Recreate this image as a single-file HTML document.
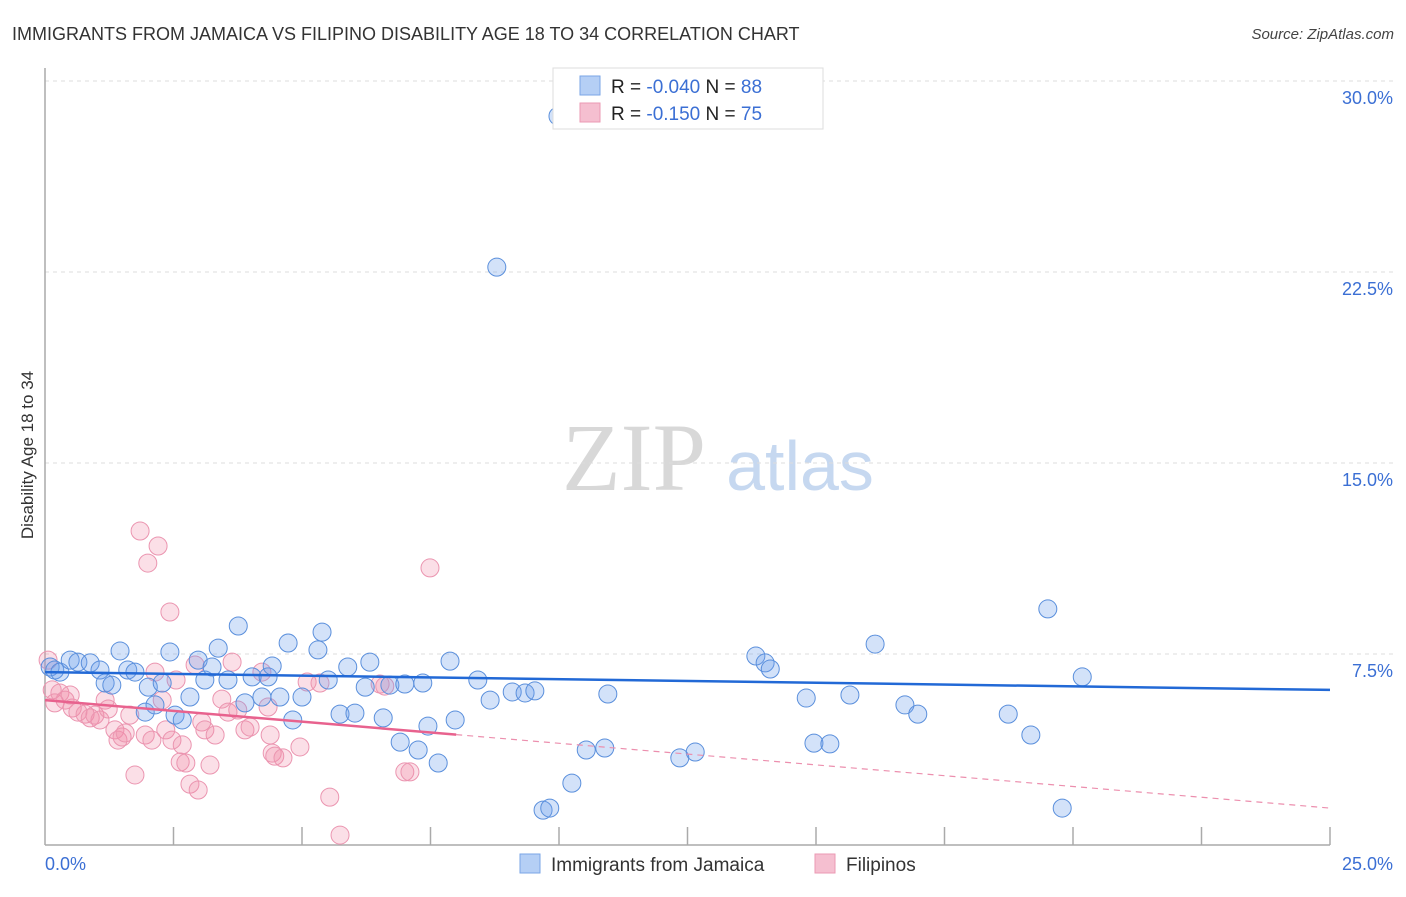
<!DOCTYPE html>
<html><head><meta charset="utf-8"><style>
body{margin:0;background:#fff;font-family:"Liberation Sans",sans-serif}
</style></head><body>
<svg id="c" width="1406" height="892" xmlns="http://www.w3.org/2000/svg" font-family="Liberation Sans, sans-serif">
<text x="12" y="40" font-size="18" fill="#333">IMMIGRANTS FROM JAMAICA VS FILIPINO DISABILITY AGE 18 TO 34 CORRELATION CHART</text>
<text x="1394" y="39" font-size="15" fill="#444" font-style="italic" text-anchor="end">Source: ZipAtlas.com</text>
<text x="634" y="490" font-size="96" fill="#d8d8d8" font-family="Liberation Serif, serif" text-anchor="middle">ZIP</text>
<text x="800" y="490" font-size="70" fill="#c6d8f0" text-anchor="middle">atlas</text>
<text transform="translate(33,455) rotate(-90)" font-size="17" fill="#333" text-anchor="middle">Disability Age 18 to 34</text>
<g id="grid"></g><g id="pts"></g><g id="trend"></g>
<g>
<rect x="553" y="68" width="270" height="61" fill="#fff" stroke="#ddd"/>
<rect x="580" y="76" width="20" height="19" fill="#b5cff5" stroke="#7aa5e6"/>
<rect x="580" y="103" width="20" height="19" fill="#f5bfd0" stroke="#eb9ab3"/>
<text x="611" y="93" font-size="19" fill="#222">R = <tspan fill="#3b6fd4">-0.040</tspan>   N = <tspan fill="#3b6fd4">88</tspan></text>
<text x="611" y="120" font-size="19" fill="#222">R =  <tspan fill="#3b6fd4">-0.150</tspan>   N = <tspan fill="#3b6fd4">75</tspan></text>
</g>
<g>
<rect x="520" y="854" width="20" height="19" fill="#b5cff5" stroke="#7aa5e6"/>
<text x="551" y="871" font-size="19" fill="#333">Immigrants from Jamaica</text>
<rect x="815" y="854" width="20" height="19" fill="#f5bfd0" stroke="#eb9ab3"/>
<text x="846" y="871" font-size="19" fill="#333">Filipinos</text>
</g>
</svg>
<script>
const yTicks=[7.5,15,22.5,30];
const yTickLabels=["7.5%","15.0%","22.5%","30.0%"];
const xTicks=[0,2.5,5,7.5,10,12.5,15,17.5,20,22.5,25];
const blueX=[0.10,0.19,0.29,0.49,0.64,0.88,1.07,1.17,1.30,1.46,1.61,1.75,1.95,2.01,2.14,2.28,2.43,2.53,2.67,2.82,2.98,3.11,3.25,3.37,3.56,3.76,3.89,4.03,4.22,4.34,4.42,4.57,4.73,4.82,5.00,5.31,5.39,5.51,5.74,5.89,6.03,6.23,6.32,6.58,6.71,6.91,7.00,7.26,7.35,7.45,7.65,7.88,7.98,8.42,8.66,8.79,9.09,9.34,9.53,9.69,9.82,9.98,10.25,10.53,10.89,10.95,12.35,12.65,13.83,14.01,14.11,14.81,14.96,15.27,15.66,16.15,16.73,16.98,18.74,19.18,19.51,19.79,20.18];
const blueY=[6.99,6.87,6.79,7.26,7.18,7.15,6.87,6.36,6.28,7.62,6.87,6.79,5.22,6.20,5.50,6.36,7.58,5.10,4.91,5.81,7.26,6.48,6.99,7.73,6.48,8.60,5.58,6.60,5.81,6.60,7.03,5.81,7.93,4.91,5.81,7.66,8.36,6.48,5.14,6.99,5.18,6.20,7.18,4.99,6.28,4.04,6.32,3.73,6.36,4.67,3.22,7.22,4.91,6.48,5.69,22.69,6.01,5.97,6.05,1.37,1.45,28.62,2.43,3.73,3.81,5.93,3.42,3.65,7.42,7.15,6.91,5.77,4.00,3.97,5.89,7.89,5.50,5.14,5.14,4.32,9.27,1.45,6.60];
const pinkX=[0.06,0.14,0.19,0.29,0.39,0.49,0.53,0.64,0.78,0.88,0.97,1.07,1.17,1.23,1.36,1.42,1.50,1.56,1.65,1.75,1.85,1.95,2.00,2.08,2.14,2.20,2.28,2.35,2.43,2.47,2.55,2.63,2.67,2.74,2.82,2.92,2.98,3.05,3.11,3.21,3.31,3.44,3.56,3.64,3.75,3.89,3.99,4.22,4.34,4.38,4.42,4.47,4.63,4.96,5.10,5.35,5.54,5.74,6.52,6.61,7.00,7.10,7.49];
const pinkY=[7.26,6.09,5.58,5.97,5.69,5.89,5.38,5.22,5.14,4.99,5.10,4.91,5.69,5.34,4.52,4.12,4.24,4.40,5.10,2.75,12.33,4.32,11.07,4.12,6.79,11.74,5.69,4.52,9.15,4.12,6.48,3.26,3.93,3.22,2.39,7.07,2.16,4.83,4.52,3.14,4.32,5.73,5.22,7.18,5.30,4.52,4.63,6.79,5.42,4.32,3.61,3.49,3.42,3.85,6.40,6.36,1.88,0.39,6.32,6.24,2.87,2.87,10.88];
const blueTrend=[6.79,6.09];
const pinkTrend=[5.69,1.45];
const pinkSolidEnd=8.0;
const NS="http://www.w3.org/2000/svg";
const X=v=>45+v/25*1285, Y=v=>845-v/7.5*191;
function mk(t,a,p){const e=document.createElementNS(NS,t);for(const k in a)e.setAttribute(k,a[k]);p.appendChild(e);return e;}
const g=document.getElementById('grid');
yTicks.forEach((t,i)=>{
 const l=mk('line',{x1:45,x2:1393,y1:Y(t),y2:Y(t),stroke:'#ddd','stroke-dasharray':'4,4'},g);
 
 
 const tx=mk('text',{x:1393,y:Y(t)+23,'font-size':18,fill:'#3b6fd4','text-anchor':'end'},g);
 tx.textContent=yTickLabels[i];
 
 
});
const ax=mk('line',{x1:45,x2:1330,y1:845,y2:845,stroke:'#aaa','stroke-width':1.5},g);


const ay=mk('line',{x1:45,x2:45,y1:68,y2:845,stroke:'#aaa','stroke-width':1.5},g);


xTicks.forEach(t=>{if(t===0)return;
 const l=mk('line',{x1:X(t),x2:X(t),y1:827,y2:845,stroke:'#aaa','stroke-width':1.5},g);
 
 
});
const x0=mk('text',{x:45,y:870,'font-size':18,fill:'#3b6fd4'},g);x0.textContent='0.0%';


const x1=mk('text',{x:1393,y:870,'font-size':18,fill:'#3b6fd4','text-anchor':'end'},g);x1.textContent='25.0%';


const p=document.getElementById('pts');
pinkX.forEach((v,i)=>{const c=mk('circle',{cx:X(v),cy:Y(pinkY[i]),r:9,fill:'rgba(242,140,170,0.28)',stroke:'#eb95b0','stroke-width':1},p);
 
 });
blueX.forEach((v,i)=>{const c=mk('circle',{cx:X(v),cy:Y(blueY[i]),r:9,fill:'rgba(110,160,235,0.3)',stroke:'#5a8fdc','stroke-width':1},p);
 
 });
const tr=document.getElementById('trend');
const pm=pinkTrend[0]+(pinkTrend[1]-pinkTrend[0])*pinkSolidEnd/25;
const pd=mk('line',{x1:X(pinkSolidEnd),y1:Y(pm),x2:X(25),y2:Y(pinkTrend[1]),stroke:'#ec8fae','stroke-width':1.2,'stroke-dasharray':'6,5'},tr);


const ps=mk('line',{x1:X(0),y1:Y(pinkTrend[0]),x2:X(pinkSolidEnd),y2:Y(pm),stroke:'#e8628e','stroke-width':2.5},tr);


const bl=mk('line',{x1:X(0),y1:Y(blueTrend[0]),x2:X(25),y2:Y(blueTrend[1]),stroke:'#2269d6','stroke-width':2.5},tr);


</script>
</body></html>
